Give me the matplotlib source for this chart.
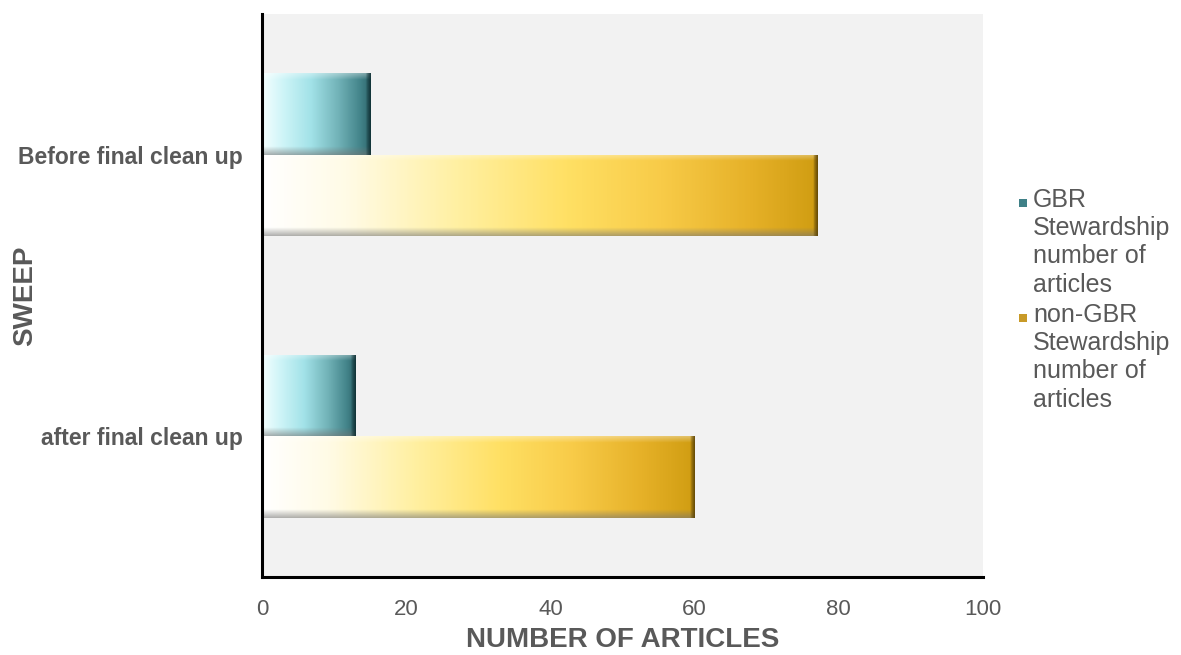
import numpy as np
import matplotlib
matplotlib.use('Agg')
import matplotlib.pyplot as plt
import matplotlib.colors as mcolors
from matplotlib.patches import Rectangle

plt.rcParams['font.family'] = ['Liberation Sans', 'DejaVu Sans']

categories = ['after final clean up', 'Before final clean up']
gbr_counts = [13, 15]
non_gbr_counts = [60, 77]
series_labels = ['GBR\nStewardship\nnumber of\narticles',
                 'non-GBR\nStewardship\nnumber of\narticles']
x_ticks = [0, 20, 40, 60, 80, 100]

text_grey = '#595959'

teal_cmap = mcolors.LinearSegmentedColormap.from_list(
    'teal', [(0, '#f4ffff'), (0.2, '#cdf4f7'), (0.45, '#a2e2e8'),
             (0.7, '#72b3b8'), (0.9, '#44858b'), (1.0, '#2f676d')])
gold_cmap = mcolors.LinearSegmentedColormap.from_list(
    'gold', [(0, '#ffffff'), (0.15, '#fffbe6'), (0.35, '#fff0a2'),
             (0.55, '#ffe064'), (0.72, '#f8cb48'), (0.88, '#e6b128'),
             (1.0, '#d09d12')])


def bevel_image(cmap, value, edge_color, nx=400, ny=80):
    # horizontal gradient with a light top band, dark bottom band, dark right end
    t = np.linspace(0, 1, nx)
    rgb = cmap(t)[:, :3]
    img = np.tile(rgb, (ny, 1, 1))
    top = int(ny * 0.08)
    bot = int(ny * 0.10)
    for i in range(top):
        a = 0.35 * (1 - i / top)
        img[i] = img[i] * (1 - a) + a
    for i in range(bot):
        a = 0.55 * (1 - i / bot)
        img[ny - 1 - i] = img[ny - 1 - i] * (1 - a) + a * np.array([0.45, 0.45, 0.45])
    edge = max(2, int(nx * 0.7 / value))
    ec = np.array(mcolors.to_rgb(edge_color))
    for j in range(edge):
        a = 0.85 * (1 - j / edge) ** 0.7
        img[:, nx - 1 - j] = img[:, nx - 1 - j] * (1 - a) + a * ec
    return np.clip(img, 0, 1)


fig = plt.figure(figsize=(11.81, 6.55), dpi=100)
ax = fig.add_axes([0.2218, 0.1191, 0.6106, 0.8595])
ax.set_facecolor('#f2f2f2')

y = np.arange(len(categories))
h = 0.29
gbr_bars = ax.barh(y + h / 2, gbr_counts, height=h, color='none', zorder=2)
non_bars = ax.barh(y - h / 2, non_gbr_counts, height=h, color='none', zorder=2)

for bars, vals, cmap, ec in [(gbr_bars, gbr_counts, teal_cmap, '#0c2a2e'),
                             (non_bars, non_gbr_counts, gold_cmap, '#5a4205')]:
    for bar, v in zip(bars, vals):
        x0, y0 = bar.get_x(), bar.get_y()
        img = bevel_image(cmap, v, ec)
        im = ax.imshow(img, extent=[x0, x0 + bar.get_width(), y0, y0 + bar.get_height()],
                       aspect='auto', origin='upper', zorder=2, interpolation='bilinear')
        im.set_clip_path(bar)

ax.set_xlim(0, 100)
ax.set_ylim(-0.5, 1.5)
ax.set_xticks(x_ticks)
ax.set_xticklabels([str(t) for t in x_ticks], fontsize=16, color=text_grey)
ax.set_yticks(y)
ax.set_yticklabels(categories, fontsize=16.5, fontweight='bold', color=text_grey)
ax.tick_params(axis='x', length=0, pad=16)
ax.tick_params(axis='y', length=0, pad=14)

for s in ['top', 'right']:
    ax.spines[s].set_visible(False)
for s in ['left', 'bottom']:
    ax.spines[s].set_linewidth(2.2)
    ax.spines[s].set_color('black')

ax.set_xlabel('NUMBER OF ARTICLES', fontsize=20, fontweight='bold', color=text_grey)
ax.set_ylabel('SWEEP', fontsize=20, fontweight='bold', color=text_grey)
ax.xaxis.set_label_coords(0.5, -0.088)
ax.yaxis.set_label_coords(-0.31, 0.5)

# legend drawn by hand so the marker sits on the first text line
W, H = 1181, 655
legend_colors = ['#3f8087', '#c89a28']
legend_tops = [203, 318]
for lab, col, yc in zip(series_labels, legend_colors, legend_tops):
    fig.patches.append(Rectangle((1019 / W, 1 - (yc + 4) / H), 8 / W, 8 / H,
                                 transform=fig.transFigure, facecolor=col,
                                 edgecolor='none'))
    fig.text(1033 / W, 1 - (yc - 15) / H, lab, fontsize=18, color=text_grey,
             va='top', ha='left', linespacing=1.22)

fig.savefig('out.png', dpi=100)
